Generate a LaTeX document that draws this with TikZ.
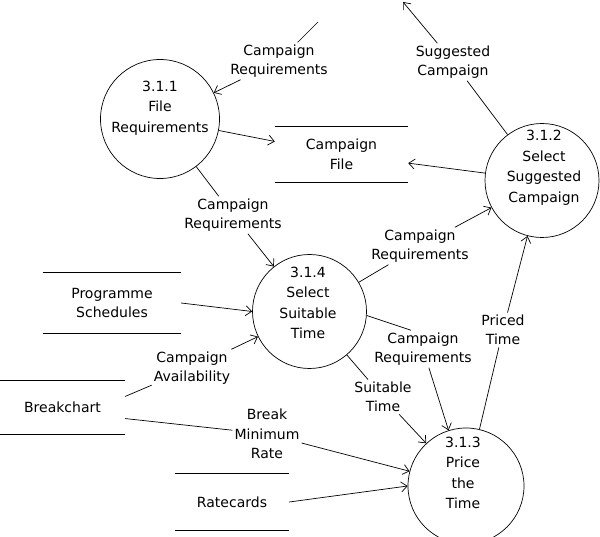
\documentclass[tikz,border=0pt]{standalone}
\usepackage{fontspec}
\setmainfont{DejaVu Sans}
\usetikzlibrary{arrows.meta,calc}
\begin{document}
\begin{tikzpicture}[x=1pt,y=-1pt,
  proc/.style={circle,draw,line width=0.7pt,inner sep=0pt,minimum size=#1},
  ptext/.style={align=center,font=\fontsize{14}{20.5}\selectfont,inner sep=0pt},
  lbl/.style={align=center,font=\fontsize{14}{19.5}\selectfont,inner sep=2pt},
  store/.style 2 args={minimum width=#1,minimum height=#2,inner sep=0pt,align=center,font=\fontsize{14}{19.5}\selectfont},
  storeline/.style={line width=0.8pt},
  seg/.style={line width=0.7pt},
  flow/.style={line width=0.7pt,-{Straight Barb[length=6pt,width=10pt,line width=0.7pt]}}]
\useasboundingbox (0,0) rectangle (600,537);

% processes
\node[proc=119] (p311) at (160,119) {};
\node[ptext] (t311) at (160,108) {3.1.1\\File\\Requirements};
\node[proc=114] (p312) at (542,180.5) {};
\node[ptext] (t312) at (544,168) {3.1.2\\Select\\Suggested\\Campaign};
\node[proc=114] (p314) at (309.5,311.5) {};
\node[ptext] (t314) at (308,303) {3.1.4\\Select\\Suitable\\Time};
\node[proc=116] (p313) at (466,486) {};
\node[ptext] (t313) at (463,473) {3.1.3\\Price\\the\\Time};

% data stores
\node[store={133}{55}] (cf) at (341.5,154.5) {Campaign\\File};
\node[store={138}{60}] (ps) at (112,303) {Programme\\Schedules};
\node[store={125}{53}] (bc) at (62.5,407.5) {Breakchart};
\node[store={114}{56}] (rc) at (232,502) {Ratecards};
\foreach \s in {cf,ps,bc,rc}{
  \draw[storeline] (\s.north west) -- (\s.north east);
  \draw[storeline] (\s.south west) -- (\s.south east);
}

% flow labels
\node[lbl] (l1) at (279,61) {Campaign\\Requirements};
\node[lbl] (l2) at (453,62) {Suggested\\Campaign};
\node[lbl] (l3) at (233,215) {Campaign\\Requirements};
\node[lbl] (l4) at (420,246) {Campaign\\Requirements};
\node[lbl] (l5) at (192,368) {Campaign\\Availability};
\node[lbl] (l6) at (267,434) {Break\\Minimum\\Rate};
\node[lbl] (l7) at (423,349) {Campaign\\Requirements};
\node[lbl] (l8) at (383,397) {Suitable\\Time};
\node[lbl] (l9) at (503,330) {Priced\\Time};

% free ends
\coordinate (fr1) at (318,22);
\coordinate (fr2) at (403,2);

% connectors
\draw[seg] (fr1) -- (l1);
\draw[flow] (l1) -- (p311);
\draw[flow] (p311) -- (cf);
\draw[flow] (p312) -- (cf);
\draw[seg] (p312) -- (l2);
\draw[flow] (l2) -- (fr2);
\draw[seg] (p311) -- (l3);
\draw[flow] (l3) -- (p314);
\draw[seg] (p314) -- (l4);
\draw[flow] (l4) -- (p312);
\draw[flow] (ps.east) -- (p314.west);
\draw[seg] (bc.10) -- (l5);
\draw[flow] (l5) -- (p314.206);
\draw[seg] (bc.-10) -- (l6);
\draw[flow] (l6) -- (p313);
\draw[flow] (rc.east) -- (p313.west);
\draw[seg] (p314.-4) -- ([xshift=-12pt]l7.north);
\draw[flow] (l7) -- (p313);
\draw[seg] (p314) -- (l8);
\draw[flow] (l8) -- (p313);
\draw[seg] (p313) -- (l9);
\draw[flow] (l9) -- (p312);
\end{tikzpicture}
\end{document}
